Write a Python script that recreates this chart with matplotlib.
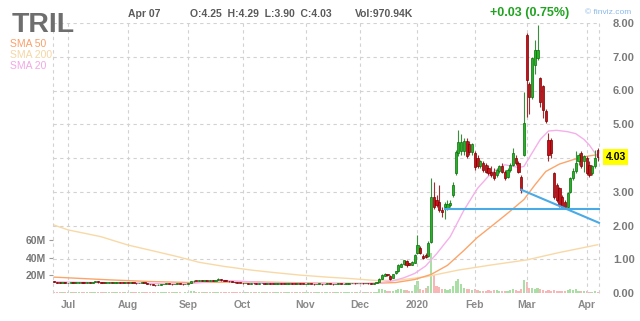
import numpy as np
import pandas as pd
import matplotlib
matplotlib.use("Agg")
import matplotlib.pyplot as plt
import matplotlib.transforms as mtransforms

plt.rcParams['font.family'] = ['Liberation Sans', 'DejaVu Sans']

# trading days shown: 2019-06-24 .. 2020-04-07 (NYSE holidays removed)
first_day, last_day = "2019-06-24", "2020-04-07"
holidays = ["2019-07-04", "2019-09-02", "2019-11-28", "2019-12-25",
            "2020-01-01", "2020-01-20", "2020-02-17"]

# daily OHLC (Jun | Jul | Aug | Sep | Oct | Nov | Dec | Jan | Feb | Mar | Apr)
opens = [.36, .33, .31, .30, .31,
         .29, .30, .31, .30, .31, .32, .31, .30, .32, .31, .32, .35, .32, .31, .30, .31, .31, .30, .31, .32, .31, .30,
         .31, .30, .31, .30, .29, .30, .31, .30, .28, .26, .24, .23, .25, .26, .27, .28, .27, .26, .27, .28, .27, .26,
         .27, .29, .35, .37, .36, .38, .36, .37, .36, .38, .37, .39, .41, .38, .37, .36, .35, .33, .32, .31,
         .30, .29, .30, .28, .30, .29, .28, .29, .30, .28, .29, .28, .27, .28, .29, .28, .27, .28, .29, .28, .27, .29, .28,
         .26, .27, .28, .27, .26, .27, .28, .26, .27, .28, .27, .26, .27, .28, .26, .27, .28, .29, .30, .29,
         .29, .30, .29, .30, .29, .28, .29, .34, .42, .50, .55, .50, .44, .58, .64, .78, .86, .95, .88, .84, .90,
         1.20, 1.33, 1.10, 1.12, 1.10, 1.50, 2.85, 2.75, 2.70, 2.46, 2.55, 2.50, 2.60, 2.90, 3.55, 4.15, 4.20, 4.20, 4.50, 4.40, 4.17,
         4.14, 4.00, 3.75, 3.85, 3.80, 3.70, 3.60, 3.60, 3.50, 3.62, 3.75, 3.60, 3.45, 3.65, 3.80, 4.00, 3.85, 3.45, 4.10,
         7.65, 6.20, 5.80, 6.75, 6.95, 6.37, 6.13, 5.40, 4.53, 4.53, 3.55, 3.20, 3.10, 2.85, 2.70, 2.55, 3.00, 3.40, 3.62, 3.90, 4.15, 3.90,
         4.00, 3.80, 3.55, 3.75, 4.25]
highs = [.37, .34, .32, .32, .32,
         .31, .32, .32, .32, .33, .33, .32, .32, .32, .33, .37, .35, .33, .31, .32, .32, .31, .32, .33, .32, .31, .32,
         .31, .32, .31, .30, .31, .32, .31, .30, .28, .26, .25, .26, .27, .28, .29, .28, .27, .28, .29, .28, .27, .28,
         .30, .36, .38, .37, .39, .38, .38, .37, .39, .38, .40, .43, .41, .39, .38, .36, .35, .34, .33, .31,
         .30, .31, .30, .30, .30, .29, .30, .31, .30, .30, .29, .28, .29, .30, .29, .28, .29, .30, .29, .28, .29, .29, .28,
         .28, .29, .28, .27, .28, .29, .28, .28, .29, .28, .27, .28, .29, .28, .28, .29, .30, .31, .30, .31,
         .31, .30, .31, .30, .29, .30, .34, .45, .55, .58, .57, .52, .57, .66, .85, .88, .99, .97, .90, .94, 1.15,
         1.72, 1.40, 1.15, 1.20, 1.55, 3.40, 3.30, 2.90, 3.20, 2.55, 2.70, 2.75, 2.75, 3.30, 4.25, 4.83, 4.70, 4.60, 4.60, 4.50, 4.45,
         4.20, 4.10, 3.95, 3.90, 3.85, 3.80, 3.75, 3.70, 3.70, 3.80, 3.85, 3.65, 3.70, 3.85, 4.30, 4.10, 3.90, 3.50, 5.95,
         7.70, 6.25, 7.00, 7.50, 7.94, 6.40, 6.15, 5.45, 4.75, 4.60, 3.60, 3.25, 3.15, 2.90, 2.75, 3.00, 3.45, 3.70, 4.20, 4.15, 4.20, 4.10,
         4.05, 3.90, 3.80, 4.25, 4.29]
lows = [.32, .30, .29, .30, .29,
        .29, .30, .29, .30, .30, .30, .29, .30, .30, .31, .32, .31, .30, .29, .30, .30, .29, .30, .31, .30, .29, .30,
        .29, .30, .29, .28, .29, .30, .29, .27, .25, .23, .22, .23, .25, .26, .27, .26, .25, .26, .27, .26, .25, .26,
        .27, .29, .34, .35, .36, .35, .36, .35, .36, .36, .37, .39, .37, .36, .35, .34, .32, .31, .30, .29,
        .28, .29, .27, .28, .28, .27, .28, .29, .27, .28, .27, .26, .27, .28, .27, .26, .27, .28, .27, .26, .27, .27, .26,
        .26, .27, .26, .25, .26, .27, .25, .26, .27, .26, .25, .26, .27, .26, .26, .27, .28, .29, .28, .29,
        .29, .28, .29, .28, .27, .28, .29, .33, .41, .49, .51, .40, .43, .56, .62, .76, .84, .78, .82, .82, .88,
        1.15, 1.15, 1.00, 1.05, 1.08, 1.48, 2.50, 2.55, 2.40, 2.25, 2.20, 2.45, 2.55, 2.85, 3.50, 4.05, 4.10, 4.10, 4.00, 4.10, 4.10,
        3.65, 3.70, 3.70, 3.60, 3.55, 3.50, 3.45, 3.35, 3.45, 3.55, 3.55, 3.35, 3.40, 3.60, 3.75, 3.80, 3.55, 2.95, 4.05,
        5.22, 5.30, 5.75, 6.50, 6.90, 5.50, 5.20, 5.05, 3.90, 4.00, 2.80, 2.70, 2.55, 2.50, 2.48, 2.50, 2.95, 3.35, 3.55, 3.80, 3.70, 3.60,
        3.50, 3.45, 3.50, 3.70, 3.90]
closes = [.33, .31, .30, .31, .30,
          .30, .31, .30, .31, .32, .31, .30, .31, .31, .32, .35, .32, .31, .30, .31, .31, .30, .31, .32, .31, .30, .31,
          .30, .31, .30, .29, .30, .31, .30, .28, .26, .24, .23, .25, .26, .27, .28, .27, .26, .27, .28, .27, .26, .27,
          .28, .35, .37, .36, .38, .36, .37, .36, .38, .37, .39, .41, .38, .37, .36, .35, .33, .32, .31, .30,
          .29, .30, .28, .29, .29, .28, .29, .30, .28, .29, .28, .27, .28, .29, .28, .27, .28, .29, .28, .27, .28, .28, .27,
          .27, .28, .27, .26, .27, .28, .26, .27, .28, .27, .26, .27, .28, .27, .27, .28, .29, .30, .29, .30,
          .30, .29, .30, .29, .28, .29, .33, .42, .52, .55, .53, .42, .55, .64, .83, .86, .97, .83, .84, .92, 1.12,
          1.42, 1.18, 1.05, 1.08, 1.48, 2.85, 2.55, 2.60, 2.45, 2.40, 2.65, 2.63, 2.66, 3.20, 4.17, 4.47, 4.47, 4.50, 4.05, 4.17, 4.40,
          3.73, 3.75, 3.90, 3.65, 3.60, 3.55, 3.50, 3.40, 3.65, 3.75, 3.60, 3.40, 3.65, 3.80, 4.14, 3.85, 3.60, 3.05, 5.03,
          6.30, 5.80, 6.95, 7.20, 7.20, 5.66, 5.42, 5.10, 4.09, 4.15, 2.85, 2.75, 2.60, 2.56, 2.55, 2.95, 3.40, 3.62, 3.85, 4.10, 3.75, 4.05,
          3.55, 3.50, 3.75, 4.00, 4.03]
# volume in millions
volumes = [1.2, 0.9, 0.8, 0.7, 0.9,
           0.8, 0.7, 0.9, 0.6, 0.8, 0.7, 0.6, 0.8, 0.7, 0.9, 1.6, 1.0, 0.7, 0.6, 0.8, 0.7, 0.6, 0.7, 0.8, 0.7, 0.6, 0.7,
           0.7, 0.8, 0.6, 0.7, 0.8, 0.7, 0.6, 0.9, 1.1, 1.3, 1.2, 0.9, 0.8, 0.7, 0.8, 0.6, 0.7, 0.6, 0.7, 0.6, 0.5, 0.6,
           0.7, 2.5, 1.8, 1.2, 1.4, 1.0, 0.9, 0.8, 1.1, 0.9, 1.2, 1.6, 1.1, 0.9, 0.8, 0.8, 0.9, 0.8, 0.7, 0.8,
           0.7, 0.8, 0.9, 0.6, 0.7, 0.8, 0.7, 0.8, 0.9, 0.7, 0.6, 0.8, 0.7, 0.6, 0.7, 0.8, 0.7, 0.6, 0.7, 0.8, 0.6, 0.7, 0.8,
           0.7, 0.8, 0.6, 0.7, 0.8, 0.7, 0.9, 0.7, 0.6, 0.8, 0.7, 0.6, 0.7, 0.8, 0.6, 0.7, 0.9, 1.0, 0.8, 0.9,
           0.8, 0.6, 0.7, 0.9, 0.6, 0.7, 1.5, 4.5, 5.0, 3.0, 2.0, 2.5, 2.0, 3.0, 4.0, 5.0, 3.5, 3.0, 2.0, 2.5, 9.0,
           14, 5, 3, 6, 8, 45, 20, 8, 7, 4, 5, 3, 4, 8, 14, 16, 10, 6, 5, 4, 3,
           4, 3, 2, 2, 2, 3, 2, 3, 3, 2.5, 2, 2, 2, 3, 5, 3, 2, 4, 15,
           12, 6, 6, 5, 6, 4, 3, 2, 3, 2, 3, 2, 2, 2, 2, 3, 5, 3, 4, 2, 2, 2,
           2, 1.5, 1.5, 2, 0.97]

# moving averages, sampled along the drawn curves (day index, price)
sma20_days = [0, 15, 30, 40, 48, 55, 62, 68, 78, 95, 110, 118, 124, 128, 132, 136, 140, 145, 150, 155,
              160, 165, 170, 172, 175, 178, 181, 184, 188, 191, 194, 196, 198, 199]
sma20_vals = [.33, .31, .30, .27, .27, .32, .37, .35, .30, .28, .28, .29, .36, .45, .58, .80, 1.16, 1.67, 2.45, 3.10,
              3.55, 3.80, 3.72, 3.75, 4.15, 4.55, 4.80, 4.82, 4.78, 4.72, 4.55, 4.38, 4.15, 4.03]
sma50_days = [0, 10, 20, 35, 50, 62, 72, 85, 100, 115, 125, 132, 138, 144, 150, 155, 160, 166, 172, 176,
              180, 185, 190, 195, 199]
sma50_vals = [.47, .43, .39, .34, .31, .32, .33, .31, .29, .28, .31, .40, .55, .82, 1.26, 1.65, 1.97, 2.36, 2.77, 3.20,
              3.60, 3.82, 3.95, 4.05, 4.10]
sma200_days = [0, 5, 17, 27, 35, 45, 53, 62, 72, 80, 90, 100, 108, 118, 126, 136, 148, 160, 173, 185, 199]
sma200_vals = [2.01, 1.87, 1.67, 1.42, 1.27, 1.08, 0.91, 0.79, 0.68, 0.61, 0.53, 0.47, 0.43, 0.37, 0.38, 0.48,
               0.68, 0.83, 0.98, 1.20, 1.43]

# hand-drawn trend lines (day index, price)
flat_line_days, flat_line_prices = [143, 199.5], [2.48, 2.48]
slope_line_days, slope_line_prices = [171, 199.5], [3.06, 2.08]

W, H = 640, 321
fig = plt.figure(figsize=(W / 100, H / 100), dpi=100)
ax = fig.add_axes([53 / W, 28 / H, 546 / W, 270 / H])
vax = ax.twinx()
ax.set_zorder(vax.get_zorder() + 1)
ax.patch.set_visible(False)

dates = pd.bdate_range(first_day, last_day)
dates = dates[~dates.isin(pd.to_datetime(holidays))]
o, h, l, c = map(np.array, (opens, highs, lows, closes))
n = len(c)
x = np.arange(n)
up = c >= o

# volume bars
vax.bar(x, volumes, width=0.8, color=np.where(up, '#a9dfa5', '#f8b7b7'), linewidth=0)
vax.set_ylim(0, 305)
vax.yaxis.tick_left()
vax.set_yticks([20, 40, 60])
vax.set_yticklabels(['20M', '40M', '60M'])
vax.tick_params(axis='y', length=3, color='#9a9a9a', labelsize=7.5, labelcolor='#777777', pad=2)
for lab in vax.get_yticklabels():
    lab.set_fontweight('bold')

# dashed grid
grid_kw = dict(color='#d2d2d2', lw=0.8, ls=(0, (3, 3)), zorder=0)
for p in range(0, 9):
    ax.axhline(p, **grid_kw)
month_idx = [i for i in range(n) if i > 0 and dates[i].month != dates[i - 1].month]
for m in month_idx:
    ax.axvline(m, **grid_kw)
ax.axvline(-0.5, clip_on=False, **grid_kw)
ax.axvline(n - 0.5, clip_on=False, **grid_kw)

# moving averages
ax.plot(sma200_days, sma200_vals, color='#f8d9a6', lw=1.0, zorder=2)
ax.plot(sma50_days, sma50_vals, color='#fca56a', lw=1.0, zorder=2)
ax.plot(sma20_days, sma20_vals, color='#f5b0ea', lw=1.0, zorder=2)

# candles
face = np.where(up, '#22b422', '#c8101a')
edge = np.where(up, '#0d6e0d', '#7a0000')
wick = np.where(up, '#3a8f3a', '#9c3030')
ax.vlines(x, l, h, colors=wick, lw=0.8, zorder=3)
ax.bar(x, np.maximum(np.abs(c - o), 0.012), bottom=np.minimum(o, c), width=0.8,
       color=face, edgecolor=edge, linewidth=0.5, zorder=4)

# trend lines
ax.plot(flat_line_days, flat_line_prices, color='#4aaae6', lw=1.5, zorder=5, clip_on=False)
ax.plot(slope_line_days, slope_line_prices, color='#4aaae6', lw=1.5, zorder=5, clip_on=False)

ax.set_xlim(-0.5, n - 0.5)
ax.set_ylim(0, 8)
for s in list(ax.spines.values()) + list(vax.spines.values()):
    s.set_visible(False)

ax.yaxis.tick_right()
ax.set_yticks(range(0, 9))
ax.set_yticklabels(['' if p == 4 else f"{p:.2f}" for p in range(0, 9)])
ax.tick_params(axis='y', length=0, pad=10, labelsize=8, labelcolor='#7a7a7a')
ax.set_xticks(month_idx)
ax.set_xticklabels([str(dates[i].year) if dates[i].month == 1 else dates[i].strftime('%b') for i in month_idx])
ax.tick_params(axis='x', length=0, pad=5, labelsize=7.5, labelcolor='#8a8a8a')
for lab in ax.get_xticklabels() + ax.get_yticklabels():
    lab.set_fontweight('bold')

# last price tag
trans = mtransforms.blended_transform_factory(ax.transAxes, ax.transData)
ax.text(1.012, c[-1], f"{c[-1]:.2f}", transform=trans, ha='left', va='center', fontsize=7.5,
        fontweight='bold', color='black', clip_on=False, zorder=10,
        bbox=dict(boxstyle='square,pad=0.25', fc='#ffff00', ec='none'))

# header
def fx(px):
    return px / W

def fy(py):
    return 1 - py / H

fig.text(fx(12), fy(32), "TRIL", fontsize=20.5, fontweight='bold', color='#6e6e6e', va='baseline')
fig.text(fx(10), fy(44), "SMA 50", fontsize=7.5, color='#f9a06a', va='center')
fig.text(fx(10), fy(55), "SMA 200", fontsize=7.5, color='#f4d7a4', va='center')
fig.text(fx(10), fy(66), "SMA 20", fontsize=7.5, color='#f2a7e4', va='center')
fig.text(fx(128), fy(14), "Apr 07", fontsize=7.5, fontweight='bold', color='#5a5a5a', va='center')
fig.text(fx(190), fy(14), "O:4.25  H:4.29  L:3.90  C:4.03", fontsize=7.5, fontweight='bold',
         color='#5a5a5a', va='center')
fig.text(fx(355), fy(14), "Vol:970.94K", fontsize=7.5, fontweight='bold', color='#5a5a5a', va='center')
fig.text(fx(490), fy(13), "+0.03 (0.75%)", fontsize=9, fontweight='bold', color='#21a321', va='center')
fig.text(fx(585), fy(12), "\u00a9 finviz.com", fontsize=6, color='#8ab9e8', va='center')

fig.savefig("out.png", dpi=100)
